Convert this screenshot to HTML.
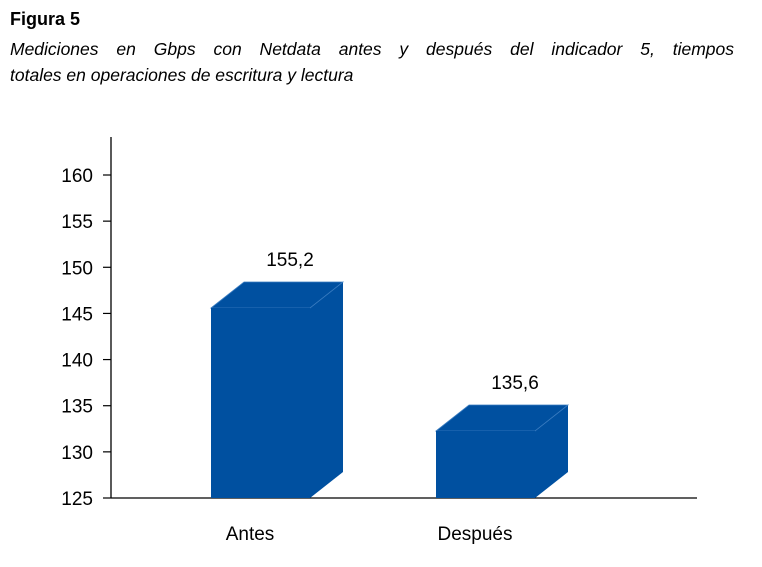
<!DOCTYPE html>
<html><head><meta charset="utf-8"><style>
body{margin:0;background:#fff;width:762px;height:567px;overflow:hidden;font-family:"Liberation Sans",Arial,sans-serif}
.t{position:absolute;left:10px;color:#000}
</style></head><body>
<div class="t" style="top:9px;font-size:18px;font-weight:bold;">Figura 5</div>
<div class="t" style="top:36px;font-size:17.5px;font-style:italic;line-height:26px;width:724px;text-align:justify;text-align-last:justify;">Mediciones en Gbps con Netdata antes y después del indicador 5, tiempos</div>
<div class="t" style="top:62px;font-size:17.5px;font-style:italic;line-height:26px;">totales en operaciones de escritura y lectura</div>
<svg id="c" width="762" height="567" style="position:absolute;left:0;top:0" font-family="Liberation Sans, Arial, sans-serif"></svg>
<script>
const categories=["Antes","Después"];
const values=[155.2,135.6];
const valueLabels=["155,2","135,6"];
const ticks=[125,130,135,140,145,150,155,160];
const NS="http://www.w3.org/2000/svg";
const svg=document.getElementById('c');
function mk(t,a){const e=document.createElementNS(NS,t);for(const k in a)e.setAttribute(k,a[k]);svg.appendChild(e);return e;}
function y(v){return 498-(v-125)*(323/35);}
function barY(v){return 308+(155.2-v)*(123/19.6);}
function xc(i){return 211+i*225;}
const bw=99,dx=33,dy=26;
let ax=mk('line',{x1:111,y1:137,x2:111,y2:498,stroke:'#000','stroke-width':1.3});

let xa=mk('line',{x1:111,y1:498,x2:697,y2:498,stroke:'#000','stroke-width':1.3});

ticks.forEach(t=>{
 const l=mk('line',{x1:103,y1:y(t),x2:111,y2:y(t),stroke:'#000','stroke-width':1.2});
 
 const tx=mk('text',{x:93,y:y(t)+7,'font-size':19,'text-anchor':'end',fill:'#000'});
 tx.textContent=t;
 
});
values.forEach((v,i)=>{
 const x0=xc(i),top=barY(v);
 const g=document.createElementNS(NS,'g');svg.appendChild(g);
 
 
 const add=(t,a)=>{const e=document.createElementNS(NS,t);for(const k in a)e.setAttribute(k,a[k]);g.appendChild(e);return e;};
 add('polygon',{points:`${x0+bw},${top} ${x0+bw+dx},${top-dy} ${x0+bw+dx},${498-dy} ${x0+bw},498`,fill:'#0050a0'});
 add('polygon',{points:`${x0},${top} ${x0+dx},${top-dy} ${x0+bw+dx},${top-dy} ${x0+bw},${top}`,fill:'#0050a0',stroke:'#3a7cc0','stroke-width':0.8});
 add('rect',{x:x0,y:top,width:bw,height:498-top,fill:'#0050a0'});
 const lb=mk('text',{x:x0+79,y:top-42,'font-size':19,'text-anchor':'middle',fill:'#000'});
 lb.textContent=valueLabels[i];
 
 const cl=mk('text',{x:x0+39,y:540,'font-size':19,'text-anchor':'middle',fill:'#000'});
 cl.textContent=categories[i];
 
});
</script>
</body></html>
